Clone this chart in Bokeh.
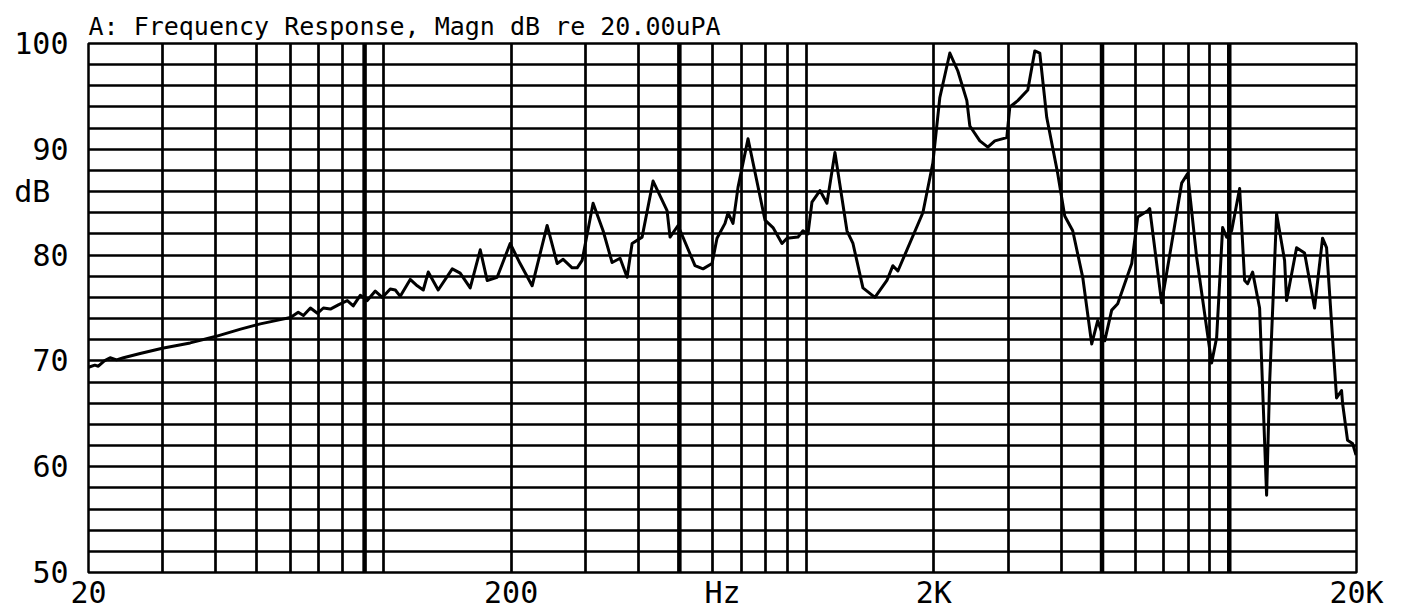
from bokeh.plotting import figure
from bokeh.models import FixedTicker, Span
from bokeh.embed import file_html
from bokeh.resources import INLINE

# ---- data ----
freq_hz = [20.0, 20.7, 21.1, 21.8, 22.5, 23.3, 24.2, 26.5, 29.9, 34.8, 39.9, 45.8, 51.0, 56.9,
           60.1, 62.7, 64.5, 67.0, 69.6, 71.9, 74.7, 78.0, 81.9, 84.6, 87.9, 91.3, 95.4, 99.1,
           103.5, 106.4, 109.3, 115.4, 119.9, 123.9, 127.3, 134.4, 145.1, 151.5, 160.0, 169.0,
           175.5, 185.3, 198.9, 210.0, 224.2, 243.3, 257.0, 265.5, 278.8, 286.5, 294.4, 312.5,
           330.0, 346.6, 362.0, 376.1, 386.5, 408.1, 433.3, 467.6, 475.3, 496.4, 544.5, 568.8,
           597.4, 613.8, 641.2, 651.8, 669.7, 688.2, 726.8, 797.3, 832.7, 874.6, 898.7, 954.1,
           980.4, 1007.4, 1029.6, 1075.4, 1117.2, 1167.0, 1246.0, 1287.4, 1359.3, 1450.8, 1548.8,
           1600.2, 1644.4, 1884.0, 1989.3, 2066.5, 2182.2, 2279.4, 2394.0, 2433.4, 2569.6,
           2684.0, 2788.2, 2976.2, 3025.2, 3159.8, 3336.8, 3466.4, 3562.0, 3700.0, 3928.2,
           4080.6, 4262.4, 4501.0, 4727.0, 4883.8, 5073.6, 5270.6, 5445.6, 5878.0, 6073.2,
           6412.8, 6483.0, 6918.6, 7306.4, 7715.2, 7971.2, 8371.6, 9084.2, 9335.0, 9645.0,
           9857.4, 10129.6, 10580.8, 10872.8, 11051.8, 11356.8, 11797.8, 12256.0, 12458.0,
           12941.2, 13517.6, 13665.6, 14430.0, 15072.6, 15915.4, 16624.2, 16990.2, 17941.2,
           18436.6, 18537.0, 19047.8, 19571.2, 19950.0]
magn_db = [69.4, 69.6, 69.5, 70.0, 70.3, 70.1, 70.3, 70.7, 71.2, 71.7, 72.3, 73.0, 73.5, 73.9,
           74.1, 74.6, 74.3, 75.0, 74.5, 75.0, 74.9, 75.3, 75.7, 75.2, 76.2, 75.7, 76.6, 76.0,
           76.8, 76.7, 76.1, 77.7, 77.1, 76.7, 78.4, 76.7, 78.7, 78.3, 76.9, 80.5,
           77.6, 77.9, 81.1, 79.2, 77.1, 82.8, 79.2, 79.6, 78.8, 78.8, 79.5, 84.9,
           82.3, 79.3, 79.7, 77.9, 81.1, 81.7, 87.0, 84.2, 81.7, 82.8, 79.0, 78.7,
           79.2, 81.6, 83.0, 84.0, 83.0, 86.4, 91.0, 83.3, 82.6, 81.1, 81.6, 81.7,
           82.3, 82.0, 85.0, 86.1, 84.9, 89.7, 82.3, 81.1, 76.9, 76.0, 77.6,
           79.0, 78.5, 84.0, 88.7, 94.9, 99.1, 97.4, 94.6, 92.2, 90.8,
           90.2, 90.8, 91.1, 94.0, 94.6, 95.6, 99.3, 99.1, 93.0, 87.7,
           83.7, 82.3, 77.9, 71.6, 73.8, 71.9, 74.8, 75.4, 79.2, 83.6,
           84.2, 84.4, 75.5, 81.1, 86.8, 87.7, 79.8, 69.8, 72.2, 82.6,
           81.7, 82.3, 86.3, 77.6, 77.3, 78.4, 75.0, 57.3, 67.9,
           83.9, 79.5, 75.7, 80.7, 80.2, 75.0, 81.6, 80.7, 66.5,
           67.2, 66.0, 62.5, 62.2, 61.1]

x_ticks = [20, 200, 2000, 20000]
x_tick_labels = ["20", "200", "2K", "20K"]
y_ticks = [50, 60, 70, 80, 90, 100]
y_tick_labels = ["50", "60", "70", "80", "90", "100"]
x_grid_freqs = [20, 30, 40, 50, 60, 70, 80, 90, 100,
                200, 300, 400, 500, 600, 700, 800, 900, 1000,
                2000, 3000, 4000, 5000, 6000, 7000, 8000, 9000, 10000, 20000]
x_grid_heavy = [90, 500, 5000, 10000]
y_grid_levels = list(range(50, 101, 2))

title_text = "A: Frequency Response, Magn dB re 20.00uPA"
x_label = "Hz"
y_label = "dB"
y_label_level = 86

X_MIN, X_MAX = 20, 20000
Y_MIN, Y_MAX = 50, 100

FONT = "DejaVu Sans Mono"
LABEL_SIZE = "30px"

p = figure(x_axis_type="log", x_range=(X_MIN, X_MAX), y_range=(Y_MIN, Y_MAX),
           frame_width=1268, frame_height=529,
           min_border_left=88, min_border_right=47, min_border_top=43, min_border_bottom=20,
           output_backend="svg", toolbar_location=None, background_fill_color="white",
           border_fill_color="white")

p.title.text = title_text
p.title.align = "left"
p.title.text_font = FONT
p.title.text_font_size = "25px"
p.title.text_font_style = "normal"
p.title.text_color = "black"
p.title.standoff = 6
p.title.offset = 0

p.outline_line_color = "black"
p.outline_line_width = 2.5
p.outline_line_alpha = 1.0

# grids
p.xgrid.ticker = FixedTicker(ticks=x_grid_freqs)
p.ygrid.ticker = FixedTicker(ticks=y_grid_levels)
for g in (p.xgrid[0], p.ygrid[0]):
    g.grid_line_color = "black"
    g.grid_line_width = 2.7
    g.grid_line_alpha = 1.0
    g.minor_grid_line_color = None
for f in x_grid_heavy:
    p.add_layout(Span(location=f, dimension="height", line_color="black", line_width=4.5))

# axes
xa = p.xaxis[0]
ya = p.yaxis[0]
xa.ticker = FixedTicker(ticks=x_ticks)
xa.major_label_overrides = {t: s for t, s in zip(x_ticks, x_tick_labels)}
ya.ticker = FixedTicker(ticks=y_ticks + [y_label_level])
y_overrides = {t: s for t, s in zip(y_ticks, y_tick_labels)}
y_overrides[y_label_level] = y_label + "\u00a0"
ya.major_label_overrides = y_overrides
for ax in (xa, ya):
    ax.axis_line_color = None
    ax.major_tick_line_color = None
    ax.minor_tick_line_color = None
    ax.major_tick_out = 0
    ax.major_tick_in = 0
    ax.minor_tick_out = 0
    ax.minor_tick_in = 0
    ax.major_label_text_font = FONT
    ax.major_label_text_font_size = LABEL_SIZE
    ax.major_label_text_color = "black"
xa.major_label_standoff = 2
ya.major_label_standoff = 20

xa.axis_label = x_label
xa.axis_label_text_font = FONT
xa.axis_label_text_font_size = LABEL_SIZE
xa.axis_label_text_font_style = "normal"
xa.axis_label_text_color = "black"
xa.axis_label_standoff = -38

p.line(freq_hz, magn_db, line_color="black", line_width=3, line_join="round")

open("out.html", "w").write(file_html(p, INLINE))
